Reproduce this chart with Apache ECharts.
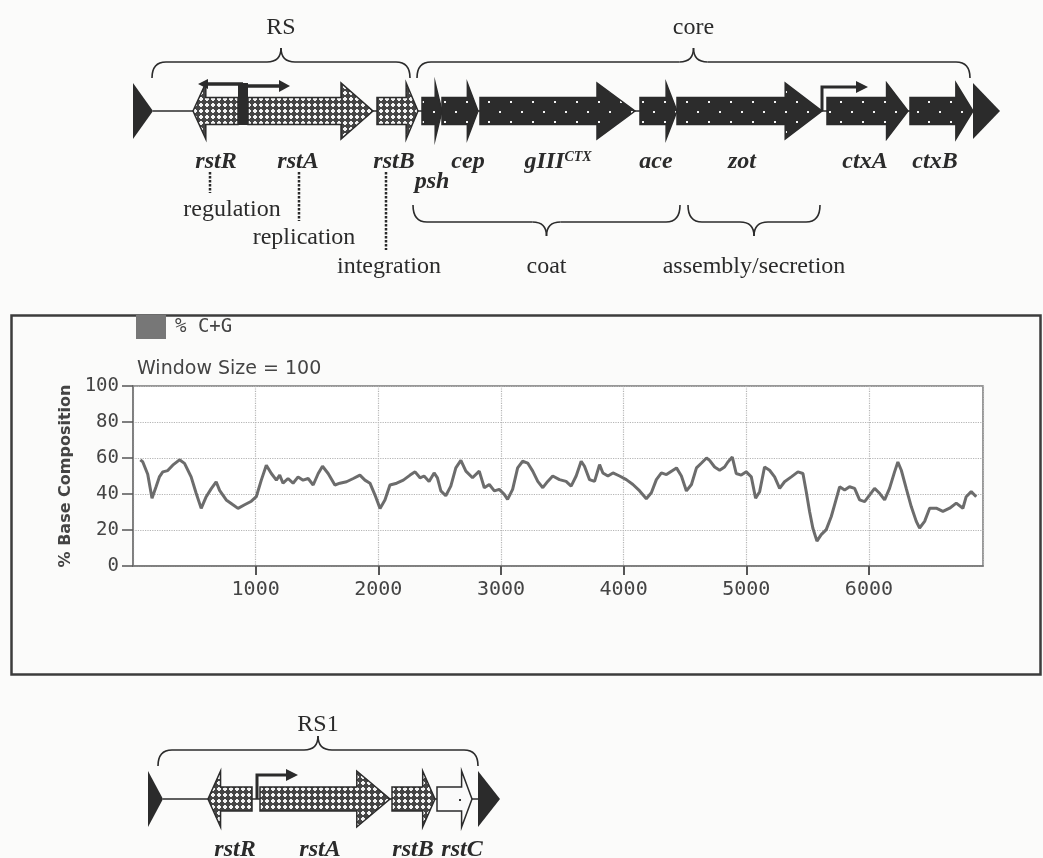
<!DOCTYPE html>
<html>
<head>
<meta charset="utf-8">
<script src="https://cdn.jsdelivr.net/npm/echarts@6.0.0/dist/echarts.min.js"></script>
<style>
  html, body { margin: 0; padding: 0; background: #fbfbfa; }
  #main { width: 1043px; height: 858px; }
</style>
</head>
<body>
<div id="main"></div>
<script>
// % C+G along the CTX genome, window size 100 (position in bp, percent)
const gcPos = [60, 80, 120, 155, 188, 215, 243, 283, 324, 379, 420, 474, 515, 556, 597, 638, 678, 706, 760, 815,
  856, 910, 965, 1005, 1046, 1087, 1128, 1169, 1196, 1223, 1264, 1305, 1346, 1387, 1428, 1469, 1510, 1545, 1591, 1646,
  1687, 1741, 1796, 1850, 1891, 1932, 1973, 2014, 2054, 2095, 2150, 2204, 2259, 2300, 2340, 2373, 2414, 2455, 2482, 2510,
  2550, 2591, 2632, 2673, 2714, 2768, 2823, 2864, 2905, 2946, 2986, 3027, 3054, 3095, 3136, 3177, 3218, 3259, 3300, 3341,
  3381, 3422, 3477, 3531, 3572, 3613, 3654, 3681, 3722, 3763, 3804, 3831, 3872, 3913, 3967, 4022, 4076, 4131, 4185, 4226,
  4267, 4308, 4349, 4390, 4431, 4471, 4512, 4553, 4594, 4635, 4676, 4701, 4742, 4783, 4823, 4850, 4886, 4918, 4959, 5000,
  5041, 5076, 5109, 5149, 5190, 5231, 5272, 5312, 5367, 5421, 5462, 5489, 5516, 5543, 5576, 5611, 5652, 5693, 5720, 5761,
  5802, 5842, 5883, 5924, 5965, 6005, 6046, 6087, 6128, 6168, 6209, 6236, 6264, 6304, 6345, 6386, 6413, 6454, 6495, 6549,
  6603, 6658, 6712, 6766, 6793, 6834, 6875];
const gcPct = [59, 57.8, 51, 37.6, 44, 49.5, 52.3, 53, 56, 59, 57, 49.5, 40.4, 32, 38.5, 43, 46.8, 42, 36.7, 34,
  32, 34, 36, 38.5, 47.7, 56, 51.4, 47.7, 50.5, 46, 48.6, 46, 49.5, 47.7, 48.6, 45, 51.4, 55.4, 51.4, 45,
  46, 46.8, 48.6, 50.5, 47.7, 46, 39.4, 32, 36.7, 45, 46, 47.7, 50.5, 52.3, 49, 50, 47, 51.7, 49, 41.7,
  39, 44.4, 54.5, 58.7, 52.7, 49, 52.7, 43.5, 45.3, 41.7, 42.6, 39.8, 37, 42.6, 54.5, 58.2, 57.2, 52.7, 47, 43.5,
  47, 50, 48, 47, 44.4, 50, 58.2, 55.4, 48, 47, 56.3, 51.7, 50, 51.7, 50, 48, 45.3, 41.7, 37.4, 40.7,
  48, 51.7, 50.8, 52.7, 54.5, 50, 41.7, 45.3, 54.5, 57.2, 60, 58.7, 55, 53.2, 55, 57.8, 60.5, 51.4, 50.5, 52.3,
  49.5, 37.6, 41.3, 55, 53.2, 49.5, 43.1, 46.8, 49.5, 52.3, 51.4, 41.3, 30.3, 21, 13.8, 17.4, 20.2, 27.5, 34, 44,
  42.2, 44, 43.1, 36.7, 35.8, 39.4, 43.1, 40.4, 36.7, 43.1, 52.3, 57.8, 53.2, 43.1, 33, 24.8, 21.1, 24.8, 32.1, 32.1,
  30.3, 32.1, 34.9, 32.1, 38.5, 41.3, 38.5];

// CTX prophage map (map units in bp): name, start, end, strand, kind
const ctxGenes = [
  ['rstR', 480, 840, -1, 'rs'],
  ['rstA', 920, 1920, 1, 'rs'],
  ['rstB', 1952, 2280, 1, 'rs'],
  ['psh', 2312, 2472, 1, 'core'],
  ['cep', 2472, 2760, 1, 'core'],
  ['gIII', 2776, 4016, 1, 'core'],
  ['ace', 4056, 4352, 1, 'core'],
  ['zot', 4352, 5512, 1, 'core'],
  ['ctxA', 5552, 6200, 1, 'core'],
  ['ctxB', 6216, 6720, 1, 'core']
];
const ctxEnds = [[0, 160], [6720, 6936]];
const ctxLabels = [['rstR', 664, 0], ['rstA', 1320, 0], ['rstB', 2088, 0], ['psh', 2392, 1], ['cep', 2680, 0],
  ['gIII{s|CTX}', 3400, 0], ['ace', 4184, 0], ['zot', 4872, 0], ['ctxA', 5856, 0], ['ctxB', 6416, 0]];
const ctxPromoters = [[5512, 1, 368]];
const ctxDivergent = [[840, 920, 520, 1256]];
const ctxBraces = [['RS', 152, 2216, 'up'], ['core', 2272, 6696, 'up'],
  ['coat', 2240, 4376, 'down'], ['assembly/secretion', 4440, 5496, 'down']];
const ctxFunctions = [['regulation', 616, 792, 0], ['replication', 1328, 1368, 1], ['integration', 2024, 2048, 2]];

// RS1 element map
const rs1Genes = [
  ['rstR', 600, 952, -1, 'rs'],
  ['rstA', 1016, 2056, 1, 'rs'],
  ['rstB', 2072, 2416, 1, 'rs'],
  ['rstC', 2432, 2712, 1, 'open']
];
const rs1Ends = [[120, 240], [2760, 2936]];
const rs1Labels = [['rstR', 816, 0], ['rstA', 1496, 0], ['rstB', 2240, 0], ['rstC', 2632, 0]];
const rs1Promoters = [[992, 1, 328]];
const rs1Braces = [['RS1', 200, 2760, 'up']];

const ink = '#2b2b2b';
const geneFont = 'italic bold 24px "Liberation Serif"';
const textFont = '24px "Liberation Serif"';
const monoFont = '"DejaVu Sans Mono"';

function makeTile(w, h, draw) {
  const c = document.createElement('canvas');
  c.width = w;
  c.height = h;
  draw(c.getContext('2d'));
  return { image: c, repeat: 'repeat' };
}

const fills = {
  rs: makeTile(6, 6, ctx => {
    ctx.fillStyle = '#454545'; ctx.fillRect(0, 0, 6, 6);
    ctx.fillStyle = '#f2f2f2'; ctx.fillRect(1, 2, 4, 2); ctx.fillRect(2, 1, 2, 4);
  }),
  core: makeTile(22, 20, ctx => {
    ctx.fillStyle = '#2c2c2c'; ctx.fillRect(0, 0, 22, 20);
    ctx.fillStyle = '#f4f4f4'; ctx.fillRect(4, 1, 2, 2); ctx.fillRect(15, 11, 2, 2);
  }),
  open: makeTile(24, 18, ctx => {
    ctx.fillStyle = '#fafafa'; ctx.fillRect(0, 0, 24, 18);
    ctx.fillStyle = '#333'; ctx.fillRect(3, 7, 2, 2);
  })
};

function xAt(api, v) {
  return api.coord([v, 0])[0];
}

function geneRenderer(genes, cyOff, bodyH, headH) {
  return (params, api) => {
    const g = genes[params.dataIndex];
    const cy = params.coordSys.y + cyOff;
    const a = xAt(api, g[1]), b = xAt(api, g[2]);
    const head = Math.min(38, (b - a) * 0.24 + 2);
    let pts;
    if (g[3] > 0) {
      pts = [[a, cy - bodyH], [b - head, cy - bodyH], [b - head, cy - headH], [b, cy],
        [b - head, cy + headH], [b - head, cy + bodyH], [a, cy + bodyH]];
    } else {
      pts = [[b, cy - bodyH], [a + head, cy - bodyH], [a + head, cy - headH], [a, cy],
        [a + head, cy + headH], [a + head, cy + bodyH], [b, cy + bodyH]];
    }
    return { type: 'polygon', shape: { points: pts }, style: { fill: fills[g[4]], stroke: ink, lineWidth: 1.5 } };
  };
}

function endsRenderer(ends, cyOff, hh) {
  return (params, api) => {
    const e = ends[params.dataIndex];
    const cy = params.coordSys.y + cyOff;
    const a = xAt(api, e[0]), b = xAt(api, e[1]);
    const children = [{ type: 'polygon', shape: { points: [[a, cy - hh], [b, cy], [a, cy + hh]] }, style: { fill: ink } }];
    if (params.dataIndex === 0) {
      const c = xAt(api, ends[1][0]);
      children.unshift({ type: 'line', shape: { x1: b, y1: cy, x2: c, y2: cy }, style: { stroke: ink, lineWidth: 1.5 } });
    }
    return { type: 'group', children };
  };
}

function labelRenderer(labels, cyOff) {
  return (params, api) => {
    const l = labels[params.dataIndex];
    const cy = params.coordSys.y + cyOff;
    return {
      type: 'text',
      x: xAt(api, l[1]),
      y: cy + (l[2] ? 71 : 51),
      style: {
        text: l[0], font: geneFont, fill: ink, align: 'center', verticalAlign: 'middle',
        rich: { s: { font: 'italic bold 14px "Liberation Serif"', fill: ink, verticalAlign: 'top', padding: [0, 0, 8, 0] } }
      }
    };
  };
}

function promoterRenderer(proms, cyOff) {
  return (params, api) => {
    const p = proms[params.dataIndex];
    const cy = params.coordSys.y + cyOff;
    const x = xAt(api, p[0]), x2 = xAt(api, p[0] + p[1] * p[2]);
    const y = cy - 24;
    return {
      type: 'group',
      children: [
        { type: 'polyline', shape: { points: [[x, cy], [x, y], [x2 - 9 * p[1], y]] }, style: { stroke: ink, lineWidth: 3, fill: 'none' } },
        { type: 'polygon', shape: { points: [[x2 - 12 * p[1], y - 6], [x2, y], [x2 - 12 * p[1], y + 6]] }, style: { fill: ink } }
      ]
    };
  };
}

function divergentRenderer(items, cyOff) {
  return (params, api) => {
    const d = items[params.dataIndex];
    const cy = params.coordSys.y + cyOff;
    const a = xAt(api, d[0]), b = xAt(api, d[1]);
    const l = xAt(api, d[2]), r = xAt(api, d[3]);
    const m = (a + b) / 2;
    const y = cy - 27;
    return {
      type: 'group',
      children: [
        { type: 'rect', shape: { x: a, y: cy - 28, width: b - a, height: 42 }, style: { fill: ink } },
        { type: 'line', shape: { x1: m, y1: y, x2: l + 8, y2: y }, style: { stroke: ink, lineWidth: 3.5 } },
        { type: 'polygon', shape: { points: [[l + 10, y - 5], [l, y], [l + 10, y + 5]] }, style: { fill: ink } },
        { type: 'line', shape: { x1: m, y1: y + 2, x2: r - 8, y2: y + 2 }, style: { stroke: ink, lineWidth: 3.5 } },
        { type: 'polygon', shape: { points: [[r - 11, y - 4], [r, y + 2], [r - 11, y + 8]] }, style: { fill: ink } }
      ]
    };
  };
}

function braceRenderer(braces, cyOff, upLabel) {
  return (params, api) => {
    const br = braces[params.dataIndex];
    const cy = params.coordSys.y + cyOff;
    const a = xAt(api, br[1]), b = xAt(api, br[2]), m = (a + b) / 2;
    const up = br[3] === 'up';
    const yE = up ? cy - 33 : cy + 94;
    const yL = up ? cy - 49 : cy + 111;
    const yP = up ? cy - 63 : cy + 125;
    const yT = up ? cy - upLabel : cy + 156;
    const r = 14;
    const st = { stroke: ink, lineWidth: 1.6, fill: 'none' };
    return {
      type: 'group',
      children: [
        { type: 'bezierCurve', shape: { x1: a, y1: yE, x2: a + r, y2: yL, cpx1: a, cpy1: yL }, style: st },
        { type: 'line', shape: { x1: a + r, y1: yL, x2: m - r, y2: yL }, style: st },
        { type: 'bezierCurve', shape: { x1: m - r, y1: yL, x2: m, y2: yP, cpx1: m, cpy1: yL }, style: st },
        { type: 'bezierCurve', shape: { x1: m, y1: yP, x2: m + r, y2: yL, cpx1: m, cpy1: yL }, style: st },
        { type: 'line', shape: { x1: m + r, y1: yL, x2: b - r, y2: yL }, style: st },
        { type: 'bezierCurve', shape: { x1: b - r, y1: yL, x2: b, y2: yE, cpx1: b, cpy1: yL }, style: st },
        { type: 'text', x: m, y: yT, style: { text: br[0], font: textFont, fill: ink, align: 'center', verticalAlign: 'middle' } }
      ]
    };
  };
}

function functionRenderer(funcs, cyOff) {
  return (params, api) => {
    const f = funcs[params.dataIndex];
    const cy = params.coordSys.y + cyOff;
    const ty = cy + [99, 127, 156][f[3]];
    const x = xAt(api, f[1]);
    return {
      type: 'group',
      children: [
        { type: 'line', shape: { x1: x, y1: cy + 61, x2: x, y2: ty - 17 }, style: { stroke: ink, lineWidth: 2.5, lineDash: [2.5, 1.5] } },
        { type: 'text', x: xAt(api, f[2]), y: ty, style: { text: f[0], font: textFont, fill: ink, align: 'center', verticalAlign: 'middle' } }
      ]
    };
  };
}

function mapSeries(idx, items, renderItem) {
  return {
    type: 'custom',
    xAxisIndex: idx,
    yAxisIndex: idx,
    silent: true,
    data: items.map(() => [0, 0]),
    renderItem
  };
}

const chart = echarts.init(document.getElementById('main'));

chart.setOption({
  animation: false,
  backgroundColor: '#fbfbfa',
  title: {
    text: 'Window Size = 100',
    left: 137,
    top: 360,
    padding: 0,
    textStyle: { fontFamily: 'DejaVu Sans', fontSize: 19, fontWeight: 'normal', color: '#444' }
  },
  legend: {
    data: ['% C+G'],
    left: 136,
    top: 315,
    padding: 0,
    icon: 'rect',
    itemWidth: 30,
    itemHeight: 24,
    textStyle: { fontFamily: monoFont, fontSize: 19, color: '#444', padding: [0, 0, 0, 4] }
  },
  graphic: [{
    type: 'rect',
    left: 9,
    top: 313,
    shape: { width: 1029, height: 359 },
    style: { fill: 'none', stroke: '#3c3c3c', lineWidth: 2.5 },
    silent: true
  }],
  grid: [
    { left: 133, top: 386, width: 850, height: 180, show: true, borderColor: '#777', borderWidth: 1.5, backgroundColor: '#fff' },
    { left: 133, top: 0, width: 867, height: 300 },
    { left: 133, top: 690, width: 867, height: 168 }
  ],
  xAxis: [
    {
      type: 'value', gridIndex: 0, min: 0, max: 6930, interval: 1000,
      axisLine: { show: true, lineStyle: { color: '#777', width: 1.5 } },
      axisTick: { show: true, length: 9, lineStyle: { color: '#555', width: 2 } },
      axisLabel: {
        fontFamily: monoFont, fontSize: 20, color: '#444', margin: 14,
        showMinLabel: false, showMaxLabel: false,
        formatter: v => String(v)
      },
      splitLine: { show: true, lineStyle: { color: '#b5b5b5', type: 'dotted', width: 1.2 } }
    },
    { type: 'value', gridIndex: 1, min: 0, max: 6936, show: false },
    { type: 'value', gridIndex: 2, min: 0, max: 6936, show: false }
  ],
  yAxis: [
    {
      type: 'value', gridIndex: 0, min: 0, max: 100, interval: 20,
      name: '% Base Composition',
      nameLocation: 'middle',
      nameGap: 56,
      nameTextStyle: { fontFamily: 'DejaVu Sans', fontSize: 16, fontWeight: 'bold', color: '#444' },
      axisLine: { show: true, lineStyle: { color: '#777', width: 1.5 } },
      axisTick: { show: true, length: 11, lineStyle: { color: '#555', width: 1.5 } },
      axisLabel: { fontFamily: monoFont, fontSize: 19, color: '#444', margin: 14 },
      splitLine: { show: true, lineStyle: { color: '#b5b5b5', type: 'dotted', width: 1.2 } }
    },
    { type: 'value', gridIndex: 1, min: 0, max: 1, show: false },
    { type: 'value', gridIndex: 2, min: 0, max: 1, show: false }
  ],
  series: [
    {
      name: '% C+G',
      type: 'line',
      xAxisIndex: 0,
      yAxisIndex: 0,
      data: gcPos.map((p, i) => [p, gcPct[i]]),
      showSymbol: false,
      lineStyle: { color: '#6c6c6c', width: 3 },
      itemStyle: { color: '#777' }
    },
    mapSeries(1, ctxEnds, endsRenderer(ctxEnds, 111, 28)),
    mapSeries(1, ctxGenes, geneRenderer(ctxGenes, 111, 13.5, 28)),
    mapSeries(1, ctxDivergent, divergentRenderer(ctxDivergent, 111)),
    mapSeries(1, ctxPromoters, promoterRenderer(ctxPromoters, 111)),
    mapSeries(1, ctxLabels, labelRenderer(ctxLabels, 111)),
    mapSeries(1, ctxBraces, braceRenderer(ctxBraces, 111, 83)),
    mapSeries(1, ctxFunctions, functionRenderer(ctxFunctions, 111)),
    mapSeries(2, rs1Ends, endsRenderer(rs1Ends, 109, 28)),
    mapSeries(2, rs1Genes, geneRenderer(rs1Genes, 109, 12, 28)),
    mapSeries(2, rs1Promoters, promoterRenderer(rs1Promoters, 109)),
    mapSeries(2, rs1Labels, labelRenderer(rs1Labels, 109)),
    mapSeries(2, rs1Braces, braceRenderer(rs1Braces, 109, 74))
  ]
});
</script>
</body>
</html>
